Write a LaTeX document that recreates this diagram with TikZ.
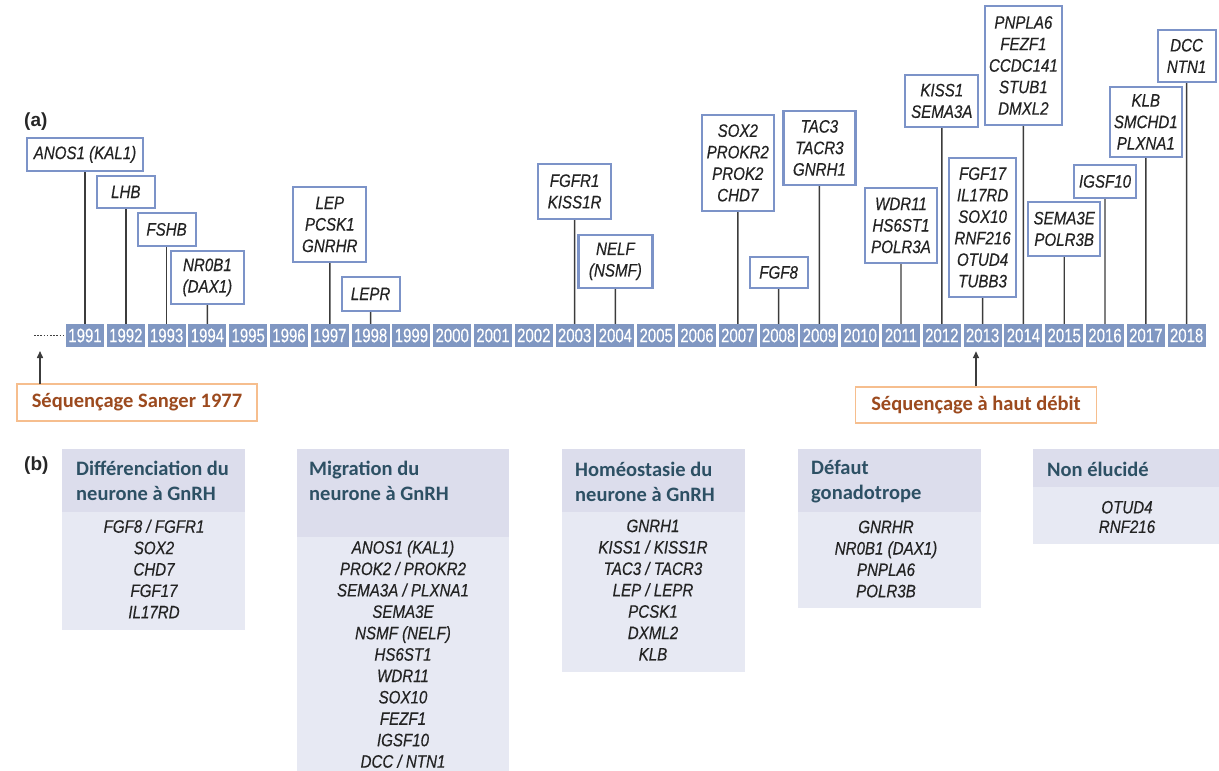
\documentclass[tikz,border=0pt]{standalone}
\usepackage{fontspec}
\usetikzlibrary{arrows.meta}
\newfontfamily\genefont[FakeStretch=0.84,FakeBold=0.35]{Liberation Sans}
\newfontfamily\yearfont[FakeStretch=0.77,FakeBold=0.3]{Liberation Sans}
\newfontfamily\carl{Carlito}
\newfontfamily\labfont{Liberation Sans}
\definecolor{cellblue}{RGB}{128,151,194}
\definecolor{boxblue}{RGB}{124,147,200}
\definecolor{stemgray}{RGB}{60,60,60}
\definecolor{genetext}{RGB}{35,35,35}
\definecolor{hdrfill}{RGB}{220,221,236}
\definecolor{bodyfill}{RGB}{231,233,243}
\definecolor{hdrtext}{RGB}{45,80,100}
\definecolor{orangeb}{RGB}{246,190,142}
\definecolor{browntext}{RGB}{156,74,30}
\begin{document}
\begin{tikzpicture}[x=1pt,y=-1pt,
  yearcell/.style={fill=cellblue,text=white,minimum width=38pt,minimum height=23pt,inner sep=0pt,
    font=\yearfont\fontsize{19.5}{19.5}\selectfont},
  genebox/.style={draw=boxblue,line width=2.2pt,fill=white,inner sep=0pt,align=center,anchor=south,
    text=genetext,font=\genefont\itshape\fontsize{18}{21.5}\selectfont},
  stem/.style={draw=stemgray,line width=1.4pt},
  panellab/.style={font=\labfont\bfseries\fontsize{19}{19}\selectfont,text=black!85,inner sep=0pt,anchor=west},
  hdr/.style={font=\carl\bfseries\fontsize{20.5}{25}\selectfont,text=hdrtext,align=left,inner sep=0pt,anchor=west},
  body/.style={font=\genefont\itshape\fontsize{18}{21.4}\selectfont,text=genetext,align=center,inner sep=0pt},
  seqbox/.style={draw=orangeb,line width=1.5pt,fill=white,inner sep=0pt,text=browntext,
    font=\carl\bfseries\fontsize{20.5}{20.5}\selectfont},
  seqarrow/.style={draw=stemgray,line width=1.5pt,-{Triangle[width=6pt,length=7pt]}}
]
\useasboundingbox (0,0) rectangle (1219,771);

% (a) label
\node[panellab] (laba) at (24,122) {(a)};

% year cells
\foreach \yr [count=\i from 0] in {1991,...,2018}
  \node[yearcell] (y\yr) at ({85+\i*40.8},335.5) {\yr};

% dotted lead-in
\coordinate (dotstart) at (34,335.5);
\draw[black!75,line width=1.6pt,dash pattern=on 1.6pt off 1.6pt] (dotstart) -- (y1991.west);

% gene boxes
\node[genebox,minimum width=116pt,minimum height=33pt] (b1991) at (85,172) {ANOS1 (KAL1)};
\node[genebox,minimum width=58pt,minimum height=32pt] (b1992) at (125.8,209) {LHB};
\node[genebox,minimum width=58pt,minimum height=33pt] (b1993) at (166.6,247) {FSHB};
\node[genebox,minimum width=73pt,minimum height=53pt] (b1994) at (207.4,305) {NR0B1\\(DAX1)};
\node[genebox,minimum width=73pt,minimum height=75pt] (b1997) at (329.8,263) {LEP\\PCSK1\\GNRHR};
\node[genebox,minimum width=58pt,minimum height=34pt] (b1998) at (370.6,312) {LEPR};
\node[genebox,minimum width=73pt,minimum height=55pt] (b2003) at (574.6,220) {FGFR1\\KISS1R};
\node[genebox,minimum width=74pt,minimum height=53pt] (b2004) at (615.4,289) {NELF\\(NSMF)};
\node[genebox,minimum width=72pt,minimum height=96pt] (b2007) at (737.8,212) {SOX2\\PROKR2\\PROK2\\CHD7};
\node[genebox,minimum width=58pt,minimum height=31pt] (b2008) at (778.6,289) {FGF8};
\node[genebox,minimum width=72pt,minimum height=74pt] (b2009) at (819.4,186) {TAC3\\TACR3\\GNRH1};
\node[genebox,minimum width=72pt,minimum height=75pt] (b2011) at (901,264) {WDR11\\HS6ST1\\POLR3A};
\node[genebox,minimum width=73pt,minimum height=52pt] (b2012) at (941.8,128) {KISS1\\SEMA3A};
\node[genebox,minimum width=67pt,minimum height=139pt] (b2013) at (982.6,298) {FGF17\\IL17RD\\SOX10\\RNF216\\OTUD4\\TUBB3};
\node[genebox,minimum width=77pt,minimum height=119pt] (b2014) at (1023.4,126) {PNPLA6\\FEZF1\\CCDC141\\STUB1\\DMXL2};
\node[genebox,minimum width=72pt,minimum height=54pt] (b2015) at (1064.2,257) {SEMA3E\\POLR3B};
\node[genebox,minimum width=62pt,minimum height=33pt] (b2016) at (1105,199) {IGSF10};
\node[genebox,minimum width=72pt,minimum height=70pt] (b2017) at (1145.8,158) {KLB\\SMCHD1\\PLXNA1};
\node[genebox,minimum width=58pt,minimum height=52pt] (b2018) at (1186.6,83) {DCC\\NTN1};

% stems
\foreach \yr in {1991,1992,1993,1994,1997,1998,2003,2004,2007,2008,2009,2011,2012,2013,2014,2015,2016,2017,2018}
  \draw[stem] (b\yr.south) -- (y\yr.north);

% sequencing labels
\node[seqbox,minimum width=240pt,minimum height=37pt] (sanger) at (137,402.5) {Séquençage Sanger 1977};
\coordinate (sangerfoot) at (40,384);
\coordinate (sangertip) at (40,351);
\draw[seqarrow] (sangerfoot) -- (sangertip);

\node[seqbox,minimum width=241pt,minimum height=36pt] (hts) at (976,405) {Séquençage à haut débit};
\draw[seqarrow,shorten >=4pt] (hts.north) -- (hts.north |- y2013.south);

% (b) label
\node[panellab] (labb) at (24,466) {(b)};

% panel 1
\fill[hdrfill] (62,449) rectangle (245,512);
\fill[bodyfill] (62,512) rectangle (245,630);
\node[hdr] (h1) at (76,480.5) {Différenciation du\\neurone à GnRH};
\node[body] (g1) at (154,569) {FGF8 / FGFR1\\SOX2\\CHD7\\FGF17\\IL17RD};

% panel 2
\fill[hdrfill] (297,449) rectangle (509,537);
\fill[bodyfill] (297,537) rectangle (509,771);
\node[hdr] (h2) at (309,480.5) {Migration du\\neurone à GnRH};
\node[body] (g2) at (403,654.2) {ANOS1 (KAL1)\\PROK2 / PROKR2\\SEMA3A / PLXNA1\\SEMA3E\\NSMF (NELF)\\HS6ST1\\WDR11\\SOX10\\FEZF1\\IGSF10\\DCC / NTN1};

% panel 3
\fill[hdrfill] (562,449) rectangle (745,512);
\fill[bodyfill] (562,512) rectangle (745,672);
\node[hdr] (h3) at (575,482) {Homéostasie du\\neurone à GnRH};
\node[body] (g3) at (653,590) {GNRH1\\KISS1 / KISS1R\\TAC3 / TACR3\\LEP / LEPR\\PCSK1\\DXML2\\KLB};

% panel 4
\fill[hdrfill] (798,449) rectangle (981,512);
\fill[bodyfill] (798,512) rectangle (981,608);
\node[hdr] (h4) at (811,482) {Défaut\\gonadotrope};
\node[body] (g4) at (886,559) {GNRHR\\NR0B1 (DAX1)\\PNPLA6\\POLR3B};

% panel 5
\fill[hdrfill] (1033,449) rectangle (1219,487);
\fill[bodyfill] (1033,487) rectangle (1219,544);
\node[hdr] (h5) at (1047,469) {Non élucidé};
\node[body,font=\genefont\itshape\fontsize{18}{19.5}\selectfont] (g5) at (1127,517) {OTUD4\\RNF216};
\end{tikzpicture}
\end{document}
